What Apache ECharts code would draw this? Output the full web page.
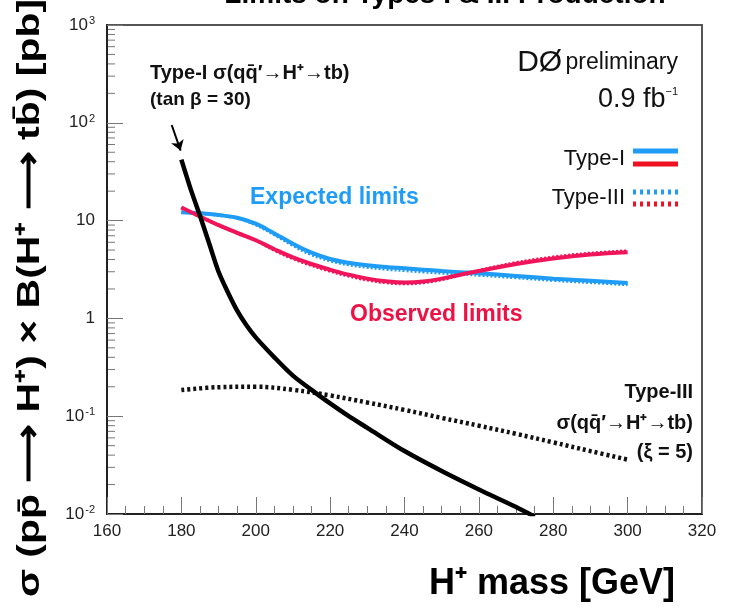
<!DOCTYPE html>
<html lang="en">
  <head>
    <meta charset="UTF-8" />
    <script src="https://cdn.jsdelivr.net/npm/echarts@6/dist/echarts.min.js"></script>
    <style>
      html, body { margin: 0; padding: 0; background: #fff; }
      #main { width: 730px; height: 613px; }
    </style>
    <title>H+ limits</title>
  </head>
  <body>
    <div id="main"></div>
    <script>
      // theory curves
      const massTypeI = [180, 182.5, 185, 187.5, 190, 192.5, 195, 197.5, 200, 205, 210, 215, 220, 225, 230, 240, 250, 260, 270, 275];
      const xsecTypeI = [42, 21, 11.2, 5.8, 3.0, 1.85, 1.2, 0.85, 0.64, 0.4, 0.26, 0.186, 0.135, 0.1, 0.076, 0.044, 0.0275, 0.0178, 0.0118, 0.0094];
      const massTypeIII = [180, 190, 200, 210, 220, 230, 240, 250, 260, 270, 280, 290, 300];
      const xsecTypeIII = [0.185, 0.198, 0.2, 0.186, 0.163, 0.138, 0.116, 0.096, 0.08, 0.066, 0.054, 0.044, 0.036];

      // limits
      const limitMass = [180, 185, 190, 195, 200, 205, 210, 215, 220, 225, 230, 235, 240, 245, 250, 255, 260, 270, 280, 290, 300];
      const expTypeI = [12.2, 11.9, 11.4, 10.7, 9.3, 7.4, 5.8, 4.7, 4.05, 3.7, 3.5, 3.35, 3.25, 3.15, 3.05, 2.97, 2.9, 2.72, 2.55, 2.42, 2.3];
      const expTypeIII = [12.2, 11.9, 11.4, 10.6, 9.1, 7.2, 5.6, 4.5, 3.9, 3.55, 3.35, 3.2, 3.1, 3.0, 2.92, 2.85, 2.78, 2.62, 2.46, 2.34, 2.22];
      const obsTypeI = [13.6, 11.0, 9.0, 7.5, 6.3, 5.1, 4.2, 3.6, 3.15, 2.8, 2.55, 2.4, 2.33, 2.38, 2.55, 2.8, 3.05, 3.6, 4.1, 4.5, 4.75];
      const obsTypeIII = [13.6, 11.0, 9.0, 7.5, 6.3, 5.0, 4.1, 3.5, 3.05, 2.72, 2.48, 2.33, 2.27, 2.33, 2.5, 2.78, 3.08, 3.7, 4.22, 4.62, 4.88];

      const xTicks = [160, 320, 20];
      const yRange = [0.01, 1000];
      const arrowFrom = [177.4, 95];
      const arrowTo = [179.8, 52];

      const blue = "#1f9cf5";
      const red = "#f0145a";
      const font = "Liberation Sans, Arial, Helvetica, sans-serif";

      const pairs = (xs, ys) => xs.map((x, i) => [x, ys[i]]);

      const chart = echarts.init(document.getElementById("main"));

      chart.setOption({
        animation: false,
        grid: {
          left: 107, right: 28, top: 25, bottom: 99,
          show: true, borderColor: "#555", borderWidth: 2
        },
        xAxis: {
          type: "value",
          min: xTicks[0], max: xTicks[1], interval: xTicks[2],
          name: "H\u207A mass [GeV]",
          nameLocation: "end",
          nameGap: -27,
          nameTextStyle: {
            fontFamily: font, fontWeight: "bold", fontSize: 36, color: "#000",
            align: "right", verticalAlign: "top", padding: [52, 0, 0, 0]
          },
          axisLine: { lineStyle: { color: "#222", width: 2 } },
          axisTick: { inside: true, length: 17, lineStyle: { color: "#777", width: 1 } },
          minorTick: { show: true, splitNumber: 4, length: 8, lineStyle: { color: "#777", width: 1 } },
          axisLabel: { fontFamily: font, fontSize: 17, color: "#222", margin: 9 },
          splitLine: { show: false }
        },
        yAxis: {
          type: "log",
          logBase: 10,
          min: yRange[0], max: yRange[1],
          axisLine: { lineStyle: { color: "#222", width: 2 } },
          axisTick: { inside: true, length: 16, lineStyle: { color: "#777", width: 1 } },
          axisLabel: {
            fontFamily: font, fontSize: 17, color: "#222", margin: 12,
            formatter: (v) => {
              if (Math.abs(v - 1) < 1e-9) return "1";
              if (Math.abs(v - 10) < 1e-9) return "10";
              const e = Math.round(Math.log10(v));
              return "10{sup|" + e + "}";
            },
            rich: { sup: { fontFamily: font, fontSize: 11, color: "#222", verticalAlign: "top", padding: [0, 0, 8, 1] } }
          },
          splitLine: { show: false }
        },
        series: [
          {
            name: "Type-III expected", type: "line", smooth: 0.4, symbol: "none",
            data: pairs(limitMass, expTypeIII),
            lineStyle: { color: blue, width: 3.5, type: [2, 2] }
          },
          {
            name: "Type-III observed", type: "line", smooth: 0.4, symbol: "none",
            data: pairs(limitMass, obsTypeIII),
            lineStyle: { color: red, width: 3.5, type: [2, 2] }
          },
          {
            name: "Type-I expected", type: "line", smooth: 0.4, symbol: "none",
            data: pairs(limitMass, expTypeI),
            lineStyle: { color: blue, width: 4 }
          },
          {
            name: "Type-I observed", type: "line", smooth: 0.4, symbol: "none",
            data: pairs(limitMass, obsTypeI),
            lineStyle: { color: red, width: 4 }
          },
          {
            name: "Type-III theory", type: "line", smooth: 0.4, symbol: "none",
            data: pairs(massTypeIII, xsecTypeIII),
            lineStyle: { color: "#111", width: 4.5, type: [3, 3] }
          },
          {
            name: "Type-I theory", type: "line", smooth: 0.3, symbol: "none",
            data: pairs(massTypeI, xsecTypeI),
            lineStyle: { color: "#000", width: 4.5 },
            markLine: {
              silent: true,
              symbol: ["none", "arrow"],
              symbolSize: 10,
              label: { show: false },
              lineStyle: { color: "#000", width: 2, type: "solid" },
              data: [[{ coord: arrowFrom }, { coord: arrowTo }]]
            }
          }
        ]
      });

      // log-spaced minor ticks on the y axis
      const x0 = chart.convertToPixel({ xAxisIndex: 0 }, xTicks[0]);
      const minorTicks = [];
      for (let k = -2; k < 3; k++) {
        for (let d = 2; d < 10; d++) {
          const y = chart.convertToPixel({ yAxisIndex: 0 }, d * Math.pow(10, k));
          minorTicks.push({
            type: "line", silent: true,
            shape: { x1: x0, y1: y, x2: x0 + 8, y2: y },
            style: { stroke: "#777", lineWidth: 1 }
          });
        }
      }

      const boldText = (x, y, text, size, color, align) => ({
        type: "text", x: x, y: y, silent: true,
        style: {
          text: text, fontFamily: font, fontWeight: "bold", fontSize: size,
          fill: color, align: align || "left", verticalAlign: "middle"
        }
      });

      // the y title is drawn taller than the font, as in the original
      const yTitle = boldText(0, 0, "\u03C3 (pp\u0304 \u27F6 H\u207A) \u00D7 B(H\u207A \u27F6 tb\u0304) [pb]", 32, "#000", "center");
      yTitle.x = 30;
      yTitle.y = 298;
      yTitle.rotation = Math.PI / 2;
      yTitle.scaleX = 1.28;

      chart.setOption({
        graphic: minorTicks.concat([
          yTitle,
          boldText(445, -5, "Limits on Types I & III Production", 28, "#000", "center"),
          boldText(150, 73, "Type-I \u03C3(qq\u0304\u2032\u2192H\u207A\u2192tb)", 20, "#111"),
          boldText(150, 100, "(tan \u03B2 = 30)", 19, "#111"),
          boldText(693, 392, "Type-III", 20, "#111", "right"),
          boldText(693, 423, "\u03C3(qq\u0304\u2032\u2192H\u207A\u2192tb)", 20, "#111", "right"),
          boldText(693, 452, "(\u03BE = 5)", 20, "#111", "right"),
          boldText(250, 198, "Expected limits", 23, blue),
          boldText(350, 315, "Observed limits", 23, "#ee1144"),
          {
            type: "text", x: 678, y: 63, silent: true,
            style: {
              text: "{big|D\u00D8} {mid|preliminary}", align: "right", verticalAlign: "middle",
              rich: {
                big: { fontFamily: font, fontSize: 30, fill: "#111" },
                mid: { fontFamily: font, fontSize: 23, fill: "#111" }
              }
            }
          },
          {
            type: "text", x: 678, y: 100, silent: true,
            style: {
              text: "{big|0.9 fb}{sup|\u22121}", align: "right", verticalAlign: "middle",
              rich: {
                big: { fontFamily: font, fontSize: 27, fill: "#111" },
                sup: { fontFamily: font, fontSize: 11, fill: "#111", verticalAlign: "top", padding: [0, 0, 14, 0] }
              }
            }
          },
          {
            type: "text", x: 625, y: 159, silent: true,
            style: { text: "Type-I", fontFamily: font, fontSize: 22, fill: "#111", align: "right", verticalAlign: "middle" }
          },
          {
            type: "text", x: 625, y: 198, silent: true,
            style: { text: "Type-III", fontFamily: font, fontSize: 22, fill: "#111", align: "right", verticalAlign: "middle" }
          },
          { type: "line", silent: true, shape: { x1: 633, y1: 151, x2: 678, y2: 151 }, style: { stroke: blue, lineWidth: 5 } },
          { type: "line", silent: true, shape: { x1: 633, y1: 164, x2: 678, y2: 164 }, style: { stroke: "#ee1122", lineWidth: 5 } },
          { type: "line", silent: true, shape: { x1: 633, y1: 192, x2: 678, y2: 192 }, style: { stroke: blue, lineWidth: 5, lineDash: [3, 4] } },
          { type: "line", silent: true, shape: { x1: 633, y1: 204, x2: 678, y2: 204 }, style: { stroke: "#ee1122", lineWidth: 5, lineDash: [3, 4] } }
        ])
      });
    </script>
  </body>
</html>
